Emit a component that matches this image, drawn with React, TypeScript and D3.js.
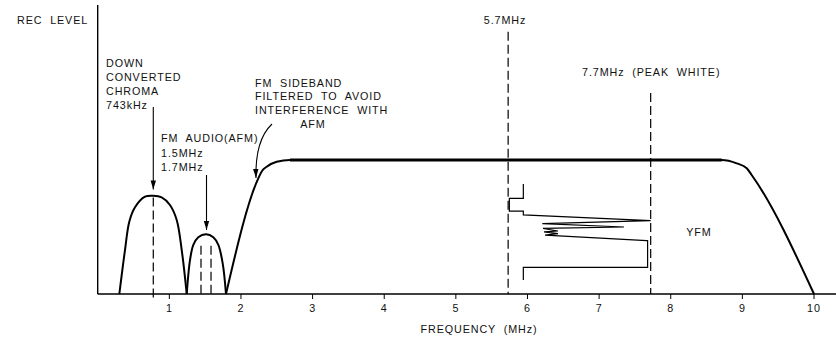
import {useEffect, useRef} from "react";
import * as d3 from "d3";

// frequency axis (MHz)
const freqTicks = [1, 2, 3, 4, 5, 6, 7, 8, 9, 10];

// down converted chroma lobe
const chromaFreq = [0.302, 0.381, 0.441, 0.521, 0.660, 0.776, 0.893, 1.009, 1.103, 1.173, 1.243];
const chromaLevel = [0, 0.328, 0.54, 0.647, 0.726, 0.733, 0.721, 0.664, 0.552, 0.328, 0];

// FM audio lobe
const afmFreq = [1.243, 1.289, 1.335, 1.404, 1.512, 1.614, 1.684, 1.745, 1.791];
const afmLevel = [0, 0.254, 0.366, 0.423, 0.445, 0.423, 0.366, 0.229, 0];

// luminance FM envelope
const yEnvFreq = [1.791, 2.242, 2.294, 2.359, 2.499, 2.685, 8.711, 8.921, 9.061, 9.130, 10.0];
const yEnvLevel = [0, 0.863, 0.918, 0.950, 0.987, 1.0, 1.0, 0.975, 0.938, 0.888, 0];
const flatFreq = [2.685, 8.711];

// YFM spectrum sketch
const yfmFreq = [5.942, 5.942, 5.747, 5.747, 5.942, 5.942, 7.720, 6.207, 7.347, 6.217, 6.426, 6.231, 6.426, 6.245, 7.665, 7.677, 7.677, 5.942, 5.942];
const yfmLevel = [0.821, 0.714, 0.714, 0.619, 0.619, 0.590, 0.547, 0.525, 0.500, 0.489, 0.470, 0.463, 0.451, 0.440, 0.398, 0.398, 0.199, 0.199, 0.104];

// markers
const chromaMarker = 0.776;
const afmMarkers = [1.442, 1.582];
const syncMarker = 5.73;
const whiteMarker = 7.72;

const FONT = "'Liberation Sans', Arial, sans-serif";

export default function App() {
    const ref = useRef(null);
    useEffect(() => {
        document.body.style.margin = "0";
        const svg = d3.select(ref.current);
        svg.selectAll("svg > *").remove();

        const width = 836, height = 341;
        svg.attr("width", width).attr("height", height);

        const x = d3.scaleLinear().domain([0, 10]).range([97.7, 814]);
        const y = d3.scaleLinear().domain([0, 1]).range([294, 160]);

        const defs = svg.append("defs");
        defs.append("marker")
            .attr("id", "head")
            .attr("viewBox", "0 0 10 10")
            .attr("refX", 10).attr("refY", 5)
            .attr("markerWidth", 9).attr("markerHeight", 9)
            .attr("markerUnits", "userSpaceOnUse")
            .attr("orient", "auto")
            .append("path")
            .attr("d", "M0,2 L10,5 L0,8 Z")
            .attr("fill", "#000");

        // axes
        svg.append("line")
            .attr("x1", x(0)).attr("x2", x(0))
            .attr("y1", 5).attr("y2", y(0))
            .attr("stroke", "#000").attr("stroke-width", 1.4);
        svg.append("line")
            .attr("x1", x(0)).attr("x2", width)
            .attr("y1", y(0)).attr("y2", y(0))
            .attr("stroke", "#000").attr("stroke-width", 1.4);

        const xAxis = svg.append("g");
        xAxis.selectAll("line")
            .data(freqTicks)
            .enter()
            .append("line")
            .attr("x1", d => x(d)).attr("x2", d => x(d))
            .attr("y1", y(0)).attr("y2", y(0) + 5)
            .attr("stroke", "#000").attr("stroke-width", 1);
        xAxis.selectAll("text")
            .data(freqTicks)
            .enter()
            .append("text")
            .attr("x", d => x(d))
            .attr("y", 312)
            .attr("text-anchor", "middle")
            .text(d => d);

        const zipped = (fs, ls) => fs.map((f, i) => [f, ls[i]]);

        const lobe = d3.line()
            .x(d => x(d[0]))
            .y(d => y(d[1]))
            .curve(d3.curveCatmullRom.alpha(0.5));
        const envelope = d3.line()
            .x(d => x(d[0]))
            .y(d => y(d[1]))
            .curve(d3.curveMonotoneX);

        svg.append("path")
            .attr("d", lobe(zipped(chromaFreq, chromaLevel)))
            .attr("fill", "none").attr("stroke", "#000").attr("stroke-width", 2);
        svg.append("path")
            .attr("d", lobe(zipped(afmFreq, afmLevel)))
            .attr("fill", "none").attr("stroke", "#000").attr("stroke-width", 2);
        svg.append("path")
            .attr("d", envelope(zipped(yEnvFreq, yEnvLevel)))
            .attr("fill", "none").attr("stroke", "#000").attr("stroke-width", 2);
        svg.append("line")
            .attr("x1", x(flatFreq[0])).attr("x2", x(flatFreq[1]))
            .attr("y1", y(1)).attr("y2", y(1))
            .attr("stroke", "#000").attr("stroke-width", 3.2);

        const straight = d3.line().x(d => x(d[0])).y(d => y(d[1]));
        svg.append("path")
            .attr("d", straight(zipped(yfmFreq, yfmLevel)))
            .attr("fill", "none").attr("stroke", "#000").attr("stroke-width", 1.2)
            .attr("stroke-linejoin", "miter");

        // dashed markers
        const dash = (f, top, bottom) => svg.append("line")
            .attr("x1", x(f)).attr("x2", x(f))
            .attr("y1", y(top)).attr("y2", y(bottom))
            .attr("stroke", "#000").attr("stroke-width", 1.2)
            .attr("stroke-dasharray", "9,4");
        dash(chromaMarker, 0.72, -0.037);
        afmMarkers.forEach(f => dash(f, 0.36, 0));
        dash(syncMarker, 1.957, 0);
        dash(whiteMarker, 1.5, 0);

        // arrows
        const arrow = (d) => svg.append("path")
            .attr("d", d)
            .attr("fill", "none").attr("stroke", "#000").attr("stroke-width", 1.1)
            .attr("marker-end", "url(#head)");
        arrow(`M${x(chromaMarker)},${y(1.396)} L${x(chromaMarker)},${y(0.78)}`);
        arrow(`M${x(1.519)},${y(0.888)} L${x(1.519)},${y(0.478)}`);
        arrow(`M272,124 Q255,140 256,178`);

        // labels
        const label = (lines, lx, ly, anchor = "start", lh = 14.2) => {
            const t = svg.append("text")
                .attr("x", lx).attr("y", ly)
                .attr("text-anchor", anchor);
            lines.forEach((s, i) => t.append("tspan")
                .attr("x", lx).attr("y", ly + i * lh).text(s));
        };
        label(["REC  LEVEL"], 17, 24);
        label(["DOWN", "CONVERTED", "CHROMA", "743kHz"], 106, 66.5);
        label(["FM  AUDIO(AFM)", "1.5MHz", "1.7MHz"], 161, 142.3);
        label(["FM  SIDEBAND", "FILTERED  TO  AVOID", "INTERFERENCE  WITH"], 255, 86.7, "start", 13.6);
        label(["AFM"], 313, 127.5, "middle");
        label(["5.7MHz"], 505, 24, "middle");
        label(["7.7MHz  (PEAK  WHITE)"], 582, 76);
        label(["YFM"], 699, 236, "middle");
        label(["FREQUENCY  (MHz)"], 479, 333, "middle");

        svg.selectAll("text")
            .attr("font-family", FONT)
            .attr("font-size", 10.75)
            .attr("letter-spacing", 0.9)
            .attr("fill", "#111")
            .style("white-space", "pre");
    }, []);

    return <svg ref={ref} style={{display: "block", background: "#fff"}}></svg>;
}
